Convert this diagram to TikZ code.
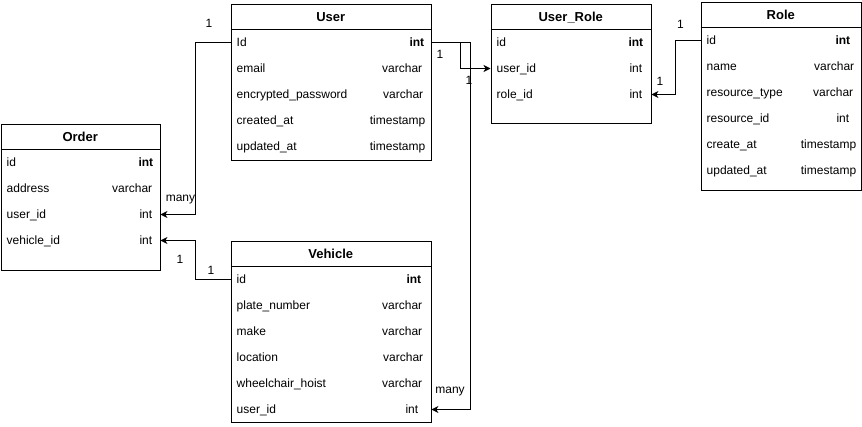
\documentclass[tikz,border=0pt]{standalone}
\usepackage{fontspec}
\setmainfont{Liberation Sans}
\usetikzlibrary{arrows.meta}

% one row of an entity: invisible row box, field name on the left, type on the right
\newcommand\erfield[7]{%
  % #1 row name, #2 left x, #3 width, #4 centre y, #5 field, #6 type, #7 right padding
  \node[rowbox, minimum width=#3pt, anchor=west] (#1) at (#2,#4) {};
  \node[fname] (#1-n) at ([xshift=6pt]#1.west) {#5};
  \node[ftype] (#1-t) at ([xshift=-#7pt]#1.east) {#6};
}

\tikzset{
  entity/.style={draw=black, line width=1pt, fill=white, anchor=north west, inner sep=0pt},
  rowbox/.style={inner sep=0pt, minimum height=26pt},
  txt/.style={inner sep=0pt, text height=8.6pt, text depth=0pt, font=\fontsize{12}{14}\selectfont},
  fname/.style={txt, anchor=west},
  ftype/.style={txt, anchor=east},
  etitle/.style={inner sep=0pt, text height=9.3pt, text depth=0pt, font=\fontsize{13}{15}\selectfont\bfseries},
  conn/.style={draw=black, line width=1pt, -{Stealth[length=7pt,width=7pt,inset=2pt]}},
  card/.style={txt},
}

\begin{document}
\begin{tikzpicture}[x=1pt,y=-1pt]
\fill[white] (0,0) rectangle (862,426);
\useasboundingbox (0,0) rectangle (862,426);

% ---------- User ----------
\node[entity, minimum width=200.5pt, minimum height=156pt] (user) at (230.5,3.5) {};
\draw[line width=1pt] (230.5,29.5) -- (431,29.5);
\node[etitle] (user-title) at (330.75,16.5) {User};
\erfield{user-r1}{230.5}{200.5}{42.5}{Id}{\textbf{int}}{7}
\erfield{user-r2}{230.5}{200.5}{68.5}{email}{varchar}{9}
\erfield{user-r3}{230.5}{200.5}{94.5}{encrypted\_password}{varchar}{8}
\erfield{user-r4}{230.5}{200.5}{120.5}{created\_at}{timestamp}{6}
\erfield{user-r5}{230.5}{200.5}{146.5}{updated\_at}{timestamp}{6}

% ---------- User_Role ----------
\node[entity, minimum width=160.5pt, minimum height=119.5pt] (urole) at (490.5,3.5) {};
\draw[line width=1pt] (490.5,29.5) -- (651,29.5);
\node[etitle] (urole-title) at (570.75,16.5) {User\_Role};
\erfield{urole-r1}{490.5}{160.5}{42.5}{id}{\textbf{int}}{8}
\erfield{urole-r2}{490.5}{160.5}{68.5}{user\_id}{int}{9}
\erfield{urole-r3}{490.5}{160.5}{94.5}{role\_id}{int}{9}

% ---------- Role ----------
\node[entity, minimum width=160.5pt, minimum height=188.5pt] (role) at (700.5,1.5) {};
\draw[line width=1pt] (700.5,27.5) -- (861,27.5);
\node[etitle] (role-title) at (780.75,14.5) {Role};
\erfield{role-r1}{700.5}{160.5}{40.5}{id}{\textbf{int}}{11}
\erfield{role-r2}{700.5}{160.5}{66.5}{name}{varchar}{7}
\erfield{role-r3}{700.5}{160.5}{92.5}{resource\_type}{varchar}{8}
\erfield{role-r4}{700.5}{160.5}{118.5}{resource\_id}{int}{12}
\erfield{role-r5}{700.5}{160.5}{144.5}{create\_at}{timestamp}{5}
\erfield{role-r6}{700.5}{160.5}{170.5}{updated\_at}{timestamp}{5}

% ---------- Order ----------
\node[entity, minimum width=159.5pt, minimum height=146pt] (order) at (0.5,123.5) {};
\draw[line width=1pt] (0.5,149.5) -- (160,149.5);
\node[etitle] (order-title) at (80.25,136.5) {Order};
\erfield{order-r1}{0.5}{159.5}{162.5}{id}{\textbf{int}}{7}
\erfield{order-r2}{0.5}{159.5}{188.5}{address}{varchar}{8}
\erfield{order-r3}{0.5}{159.5}{214.5}{user\_id}{int}{8}
\erfield{order-r4}{0.5}{159.5}{240.5}{vehicle\_id}{int}{8}

% ---------- Vehicle ----------
\node[entity, minimum width=200.5pt, minimum height=181.5pt] (vehicle) at (230.5,240.5) {};
\draw[line width=1pt] (230.5,266.5) -- (431,266.5);
\node[etitle] (vehicle-title) at (330.75,254) {Vehicle};
\erfield{vehicle-r1}{230.5}{200.5}{279.5}{id}{\textbf{int}}{10}
\erfield{vehicle-r2}{230.5}{200.5}{305.5}{plate\_number}{varchar}{9}
\erfield{vehicle-r3}{230.5}{200.5}{331.5}{make}{varchar}{9}
\erfield{vehicle-r4}{230.5}{200.5}{357.5}{location}{varchar}{8}
\erfield{vehicle-r5}{230.5}{200.5}{383.5}{wheelchair\_hoist}{varchar}{9}
\erfield{vehicle-r6}{230.5}{200.5}{409.5}{user\_id}{int}{13}

% ---------- relations ----------
\draw[conn] (user-r1.west) -- ++(-35.5,0) |- (order-r3.east);
\draw[conn] (user-r1.east) -- ++(29,0) |- (urole-r2.west);
\draw[conn] (user-r1.east) -- ++(39.5,0) |- (vehicle-r6.east);
\draw[conn] (role-r1.west) -- ++(-25.5,0) |- (urole-r3.east);
\draw[conn] (vehicle-r1.west) -- ++(-35.5,0) |- (order-r4.east);

% ---------- cardinalities ----------
\node[card] (c-uo-1) at (209,23.5) {1};
\node[card] (c-uo-m) at (180.5,197) {many};
\node[card] (c-ur-1) at (440,54) {1};
\node[card] (c-ur-2) at (469,80) {1};
\node[card] (c-uv-m) at (450,389) {many};
\node[card] (c-rr-1) at (680.5,24.5) {1};
\node[card] (c-rr-2) at (660,81) {1};
\node[card] (c-vo-1) at (180,259) {1};
\node[card] (c-vo-2) at (211,270) {1};
\end{tikzpicture}
\end{document}
